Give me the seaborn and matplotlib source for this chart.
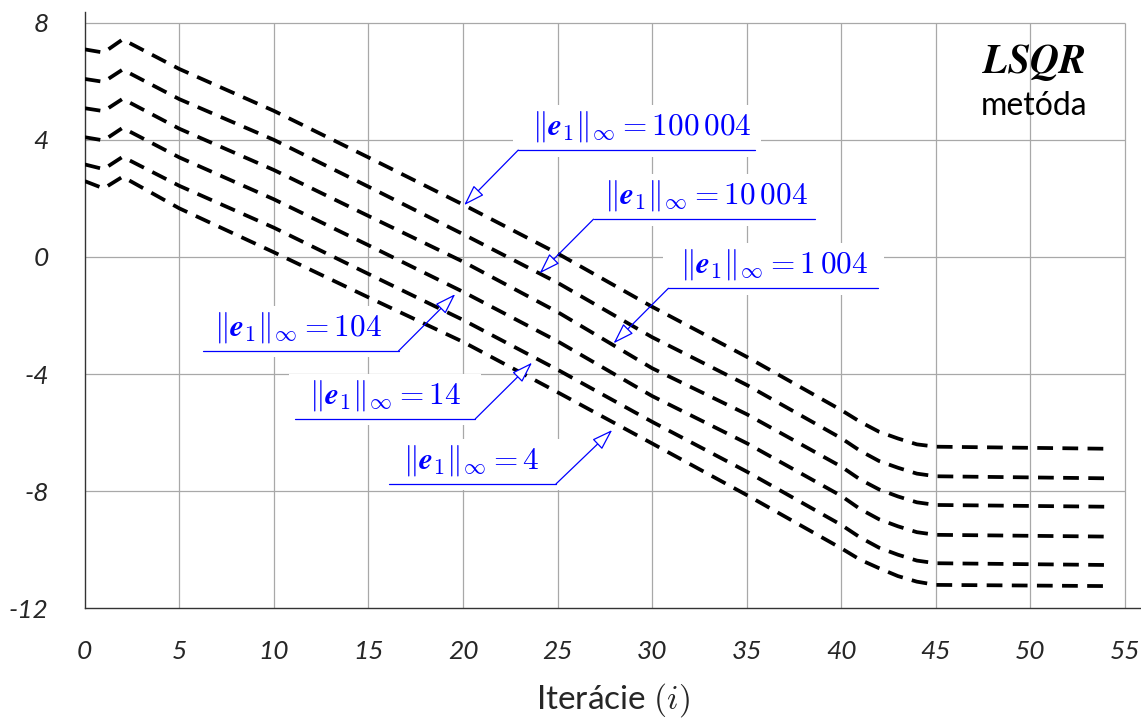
import numpy as np
import pandas as pd
import matplotlib
matplotlib.use("Agg")
import matplotlib.pyplot as plt
from matplotlib.patches import Rectangle
import seaborn as sns

# ---------------- data ----------------
iterations = [0, 1, 2, 5, 10, 15, 20, 25, 30, 35, 40, 41, 42, 43, 44, 45, 54]
e_100004 = [7.09, 6.98, 7.43, 6.42, 4.99, 3.40, 1.79, 0.12, -1.70, -3.41, -5.23, -5.63, -5.97, -6.20, -6.40, -6.48, -6.55]
e_10004 = [6.08, 5.98, 6.40, 5.39, 4.00, 2.40, 0.78, -0.88, -2.74, -4.37, -6.19, -6.62, -6.97, -7.20, -7.40, -7.49, -7.56]
e_1004 = [5.08, 4.98, 5.40, 4.38, 2.97, 1.40, -0.16, -1.88, -3.80, -5.37, -7.16, -7.60, -7.94, -8.18, -8.38, -8.47, -8.53]
e_104 = [4.09, 3.98, 4.41, 3.40, 1.97, 0.40, -1.19, -2.88, -4.75, -6.36, -8.16, -8.61, -8.96, -9.20, -9.40, -9.49, -9.55]
e_14 = [3.16, 3.00, 3.42, 2.43, 1.00, -0.58, -2.15, -3.85, -5.63, -7.33, -9.15, -9.58, -9.93, -10.17, -10.37, -10.46, -10.52]
e_4 = [2.59, 2.34, 2.74, 1.66, 0.16, -1.38, -2.90, -4.62, -6.37, -8.13, -9.95, -10.34, -10.63, -10.90, -11.09, -11.20, -11.24]

series_names = ["100 004", "10 004", "1 004", "104", "14", "4"]
series_values = [e_100004, e_10004, e_1004, e_104, e_14, e_4]

x_ticks = [0, 5, 10, 15, 20, 25, 30, 35, 40, 45, 50, 55]
y_ticks = [-12, -8, -4, 0, 4, 8]
x_tick_labels = [str(v) for v in x_ticks]
y_tick_labels = [str(v) for v in y_ticks]

# annotation layout: label, arrow tip, underline (x1, x2, y), corner side, text centre x
annotations = [
    (r"$\Vert\boldsymbol{e}_1\Vert_\infty = 100\,004$", (20.06, 1.77), (22.92, 35.46, 3.65), "left", 29.43),
    (r"$\Vert\boldsymbol{e}_1\Vert_\infty = 10\,004$", (24.05, -0.56), (26.90, 38.63, 1.29), "left", 32.84),
    (r"$\Vert\boldsymbol{e}_1\Vert_\infty = 1\,004$", (27.96, -2.95), (30.86, 41.95, -1.07), "left", 36.47),
    (r"$\Vert\boldsymbol{e}_1\Vert_\infty = 104$", (19.59, -1.27), (6.24, 16.59, -3.21), "right", 11.25),
    (r"$\Vert\boldsymbol{e}_1\Vert_\infty = 14$", (23.65, -3.61), (11.12, 20.65, -5.53), "right", 15.87),
    (r"$\Vert\boldsymbol{e}_1\Vert_\infty = 4$", (27.89, -5.91), (16.11, 24.92, -7.75), "right", 20.43),
]

# ---------------- styling ----------------
sns.set_theme(style="white")
plt.rcParams["font.family"] = ["Lato", "DejaVu Sans"]
plt.rcParams["mathtext.fontset"] = "cm"
plt.rcParams["axes.unicode_minus"] = False

fig = plt.figure(figsize=(11.41, 7.26), dpi=100)
ax = fig.add_axes([0.0743, 0.1621, 0.9257, 0.8207])

df = pd.concat(
    [pd.DataFrame({"iter": iterations, "val": vals, "series": name})
     for name, vals in zip(series_names, series_values)],
    ignore_index=True,
)

sns.lineplot(
    data=df, x="iter", y="val", hue="series", style="series",
    palette=["black"] * len(series_names),
    dashes=[(4.2, 2.5)] * len(series_names),
    linewidth=2.7, legend=False, ax=ax, zorder=4, sort=False,
)

ax.set_xlim(0, 55.85)
ax.set_ylim(-12, 8.35)

# grid (bounded to the 0..55, -12..8 box)
grid_col = "#a8a8a8"
ax.vlines(x_ticks[1:], y_ticks[0], y_ticks[-1], color=grid_col, lw=0.9, zorder=1)
ax.hlines(y_ticks[1:], x_ticks[0], x_ticks[-1], color=grid_col, lw=0.9, zorder=1)

for s in ["top", "right"]:
    ax.spines[s].set_visible(False)
for s in ["left", "bottom"]:
    ax.spines[s].set_color("#333333")
    ax.spines[s].set_linewidth(1.0)

ax.set_xticks(x_ticks)
ax.set_xticklabels(x_tick_labels, fontstyle="italic", fontsize=19)
ax.set_yticks(y_ticks)
ax.set_yticklabels(y_tick_labels, fontstyle="italic", fontsize=19)
ax.tick_params(axis="x", direction="inout", length=8, width=1.0, color="#333333", pad=19)
ax.tick_params(axis="y", direction="inout", length=8, width=1.0, color="#333333", pad=22)
ax.set_xlabel(r"Iterácie $(i)$", fontsize=24, labelpad=13)
ax.set_ylabel("")

# method text
ax.text(50.17, 6.28, r"$\boldsymbol{LSQR}$", ha="center", va="baseline", fontsize=29, color="black")
ax.text(50.17, 4.85, "metóda", ha="center", va="baseline", fontsize=23, color="black")

# annotations
for label, (tx, ty), (ux1, ux2, uy), side, text_x in annotations:
    ax.add_patch(Rectangle((ux1 - 0.3, uy - 0.22), ux2 - ux1 + 0.6, 1.75,
                           facecolor="white", edgecolor="none", zorder=2))
    ax.plot([ux1, ux2], [uy, uy], color="blue", lw=0.9, zorder=5)
    cx = ux1 if side == "left" else ux2
    ax.annotate(
        "", xy=(tx, ty), xytext=(cx, uy),
        arrowprops=dict(arrowstyle="-|>,head_length=1.3,head_width=0.43",
                        fc="white", ec="blue", lw=0.9, shrinkA=0, shrinkB=0,
                        mutation_scale=10),
        zorder=5,
    )
    ax.text(text_x, uy + 0.2, label, ha="center", va="bottom", color="blue",
            fontsize=22.5, zorder=5)

fig.savefig("out.png", dpi=100)
